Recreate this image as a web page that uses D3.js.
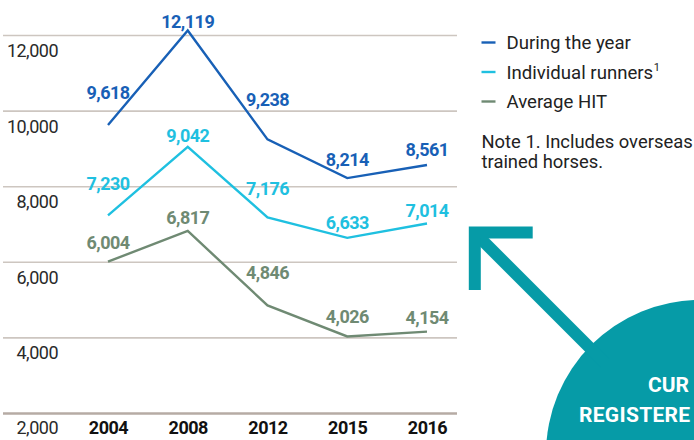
<!DOCTYPE html>
<html>
<head>
<meta charset="utf-8">
<script src="https://cdn.jsdelivr.net/npm/d3@7/dist/d3.min.js"></script>
<style>
  html, body { margin: 0; padding: 0; background: #fff; }
  svg { display: block; font-family: Roboto, "Noto Sans", sans-serif; }
</style>
</head>
<body>
<svg id="chart" width="694" height="440"></svg>
<script>
// ---- data ----
const years = ["2004", "2008", "2012", "2015", "2016"];
const duringTheYear = [9618, 12119, 9238, 8214, 8561];
const individualRunners = [7230, 9042, 7176, 6633, 7014];
const averageHIT = [6004, 6817, 4846, 4026, 4154];
const seriesNames = ["During the year", "Individual runners", "Average HIT"];
const yTicks = [2000, 4000, 6000, 8000, 10000, 12000];
const noteLines = ["Note 1. Includes overseas", "trained horses."];
const circleLines = ["CUR", "REGISTERE"];

// ---- layout / style (not data) ----
const colors = ["#1860b6", "#1fc0e0", "#6f8a73"];
const labelLift = [
  [26, 2.5, 33, 12, 9],
  [25, 5, 22, 9, 6],
  [13, 7, 26, 13, 8]
];
const teal = "#069ba7";

const svg = d3.select("#chart");

const x = d3.scalePoint().domain(years).range([108, 427]).padding(0);
const y = d3.scaleLinear().domain([2000, 12000]).range([413, 35]);

// ---- gridlines + y labels ----
const yAxis = d3.axisRight(y)
  .tickValues(yTicks)
  .tickSize(454)
  .tickFormat(d3.format(","));
const gy = svg.append("g").attr("transform", "translate(3,0)").call(yAxis);
gy.select(".domain").remove();
gy.selectAll(".tick line")
  .attr("stroke", d => d === 2000 ? "#b6aba4" : "#cdc6c0")
  .attr("stroke-width", d => d === 2000 ? 2.6 : 1.6);
gy.selectAll(".tick text")
  .attr("x", 55)
  .attr("dy", null)
  .attr("y", d => d === 2000 ? 20.5 : 21.5)
  .attr("text-anchor", "end")
  .attr("fill", "#2a2a2a")
  .style("font-size", "18px")
  .style("letter-spacing", "-0.5px")
  .style("font-weight", "400")
  .style("font-family", "Roboto, sans-serif");

// ---- x labels ----
const xAxis = d3.axisBottom(x).tickSize(0);
const gx = svg.append("g").attr("transform", "translate(0,413)").call(xAxis);
gx.select(".domain").remove();
gx.selectAll(".tick text")
  .attr("dy", null)
  .attr("y", 20.5)
  .attr("fill", "#111")
  .style("font-size", "18px")
  .style("letter-spacing", "-0.5px")
  .style("font-weight", "700")
  .style("font-family", "Roboto, sans-serif");

// ---- lines ----
const allSeries = [duringTheYear, individualRunners, averageHIT];
const line = d3.line().x((d, i) => x(years[i])).y(d => y(d));

allSeries.forEach((vals, s) => {
  svg.append("path")
    .datum(vals)
    .attr("d", line)
    .attr("fill", "none")
    .attr("stroke", colors[s])
    .attr("stroke-width", 2.4)
    .attr("stroke-linejoin", "miter");
});

allSeries.forEach((vals, s) => {
  svg.append("g").selectAll("text")
    .data(vals)
    .join("text")
    .attr("x", (d, i) => x(years[i]))
    .attr("y", (d, i) => y(d) - labelLift[s][i])
    .attr("text-anchor", "middle")
    .attr("fill", colors[s])
    .style("font-size", "18px")
    .style("letter-spacing", "-0.5px")
    .style("font-weight", "700")
    .text(d => d3.format(",")(d));
});

// ---- legend ----
const legend = svg.append("g");
seriesNames.forEach((name, i) => {
  const cy = 42.5 + i * 29.5;
  legend.append("line")
    .attr("x1", 481.5).attr("x2", 495.5)
    .attr("y1", cy).attr("y2", cy)
    .attr("stroke", colors[i]).attr("stroke-width", 2.4);
  const t = legend.append("text")
    .attr("x", 506.5).attr("y", cy + 6.8)
    .attr("fill", "#222")
    .style("font-size", "18.6px")
    .text(name);
  if (i === 1) {
    t.append("tspan")
      .attr("dx", 0.5).attr("dy", -8)
      .style("font-size", "11px")
      .text("1");
  }
});
noteLines.forEach((ln, i) => {
  svg.append("text")
    .attr("x", 481.5).attr("y", 148 + i * 20)
    .attr("fill", "#222")
    .style("font-size", "18.4px")
    .text(ln);
});

// ---- decorative circle + arrow ----
svg.append("circle")
  .attr("cx", 700).attr("cy", 454).attr("r", 154)
  .attr("fill", teal);
svg.append("line")
  .attr("x1", 477).attr("y1", 235)
  .attr("x2", 605).attr("y2", 363)
  .attr("stroke", teal).attr("stroke-width", 12);
svg.append("path")
  .attr("d", "M532.7,232.5 L474.8,232.5 L474.8,290")
  .attr("fill", "none")
  .attr("stroke", teal).attr("stroke-width", 12)
  .attr("stroke-linejoin", "miter");
svg.append("text")
  .attr("x", 648).attr("y", 391.5)
  .attr("fill", "#fff")
  .style("font-size", "21px").style("font-weight", "700")
  .text(circleLines[0]);
svg.append("text")
  .attr("x", 579).attr("y", 421.5)
  .attr("fill", "#fff")
  .style("font-size", "21px").style("font-weight", "700")
  .style("letter-spacing", "0.3px")
  .text(circleLines[1]);
</script>
</body>
</html>
